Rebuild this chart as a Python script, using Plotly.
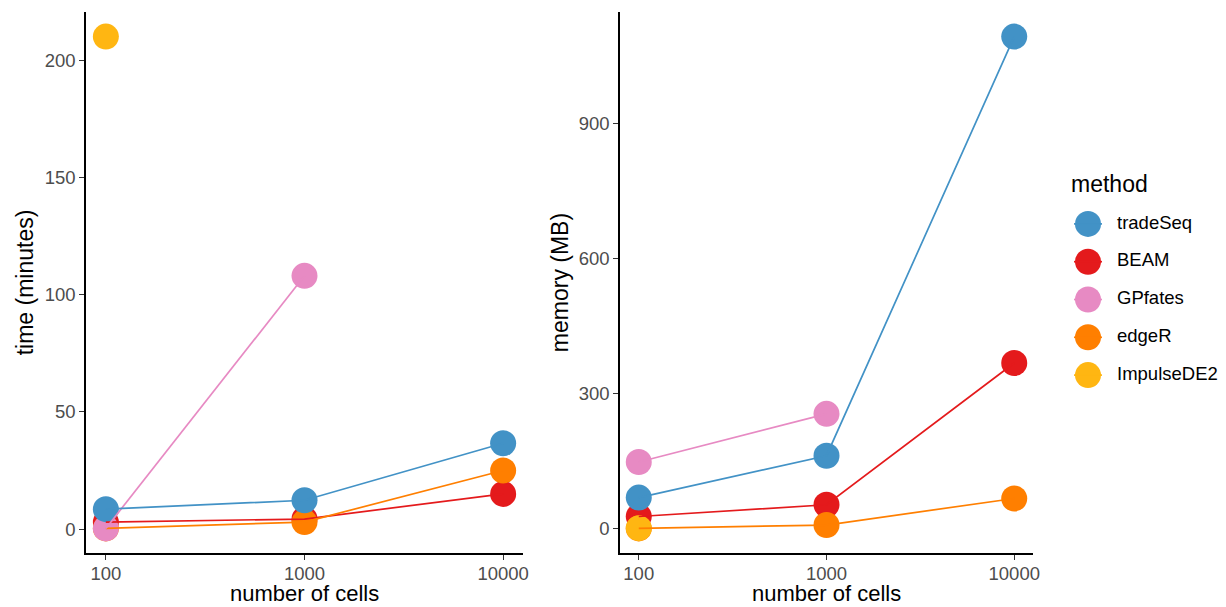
import plotly.graph_objects as go

# number of cells per benchmark run
cells = [100, 1000, 10000]

methods = ["tradeSeq", "BEAM", "GPfates", "edgeR", "ImpulseDE2"]
colors = {
    "tradeSeq": "#4292C6",
    "BEAM": "#E41A1C",
    "GPfates": "#E78AC3",
    "edgeR": "#FF7F00",
    "ImpulseDE2": "#FFB612",
}

# running time (minutes); None = run not available
time_tradeSeq = [8.5, 12.3, 36.6]
time_BEAM = [3.0, 4.3, 15.0]
time_GPfates = [0.3, 108.0, None]
time_edgeR = [0.3, 3.0, 25.0]
time_ImpulseDE2 = [210.0, None, None]

# peak memory (MB)
mem_tradeSeq = [69, 162, 1093]
mem_BEAM = [27, 53, 368]
mem_GPfates = [148, 255, None]
mem_edgeR = [0.5, 8, 67]
mem_ImpulseDE2 = [1, None, None]

time_data = {
    "tradeSeq": time_tradeSeq, "BEAM": time_BEAM, "GPfates": time_GPfates,
    "edgeR": time_edgeR, "ImpulseDE2": time_ImpulseDE2,
}
mem_data = {
    "tradeSeq": mem_tradeSeq, "BEAM": mem_BEAM, "GPfates": mem_GPfates,
    "edgeR": mem_edgeR, "ImpulseDE2": mem_ImpulseDE2,
}

# order in which points are painted (later ones on top)
point_order = ["BEAM", "edgeR", "GPfates", "ImpulseDE2", "tradeSeq"]

FONT = "Liberation Sans, Arial, sans-serif"
MSIZE = 26
LW = 1.7
TICK_SIZE = 18.5
TITLE_SIZE = 23

W, H = 1226, 607
ML, MT, MB = 86, 12, 54          # page margins around the plotting area
PW = W - ML                      # plotting-area width (no right margin)
PH = H - MT - MB


def xdom(a, b):
    return [(a - ML) / PW, (b - ML) / PW]


def ydom(top, bottom):
    return [(H - MB - bottom) / PH, (H - MB - top) / PH]


def px_x(x):
    return (x - ML) / PW


def px_y(y):
    return (H - MB - y) / PH


fig = go.Figure()


def pairs(vals):
    xs = [c for c, v in zip(cells, vals) if v is not None]
    ys = [v for v in vals if v is not None]
    return xs, ys


for xa, ya, data in (("x", "y", time_data), ("x2", "y2", mem_data)):
    # points first, then connecting lines drawn over them
    for m in point_order:
        xs, ys = pairs(data[m])
        fig.add_trace(go.Scatter(
            x=xs, y=ys, mode="markers", xaxis=xa, yaxis=ya,
            marker=dict(size=MSIZE, color=colors[m], line=dict(width=0)),
            showlegend=False, hoverinfo="skip"))
    for m in point_order:
        xs, ys = pairs(data[m])
        if len(xs) > 1:
            fig.add_trace(go.Scatter(
                x=xs, y=ys, mode="lines", xaxis=xa, yaxis=ya,
                line=dict(color=colors[m], width=LW),
                showlegend=False, hoverinfo="skip"))

# legend keys: a point with a short line segment through it, one row per method
for i, m in enumerate(methods):
    fig.add_trace(go.Scatter(
        x=[28], y=[i], mode="markers", xaxis="x3", yaxis="y3",
        marker=dict(size=MSIZE, color=colors[m], opacity=1, line=dict(width=0)),
        showlegend=False, hoverinfo="skip"))
    fig.add_trace(go.Scatter(
        x=[14, 42], y=[i, i], mode="lines", xaxis="x3", yaxis="y3",
        line=dict(color=colors[m], width=LW),
        showlegend=False, hoverinfo="skip"))
fig.add_trace(go.Scatter(
    x=[57] * len(methods), y=list(range(len(methods))), text=methods,
    mode="text", textposition="middle right", xaxis="x3", yaxis="y3",
    textfont=dict(family=FONT, size=TICK_SIZE, color="black"),
    cliponaxis=False, showlegend=False, hoverinfo="skip"))


def yrange(data):
    vals = [v for arr in data.values() for v in arr if v is not None]
    lo, hi = min(vals), max(vals)
    pad = 0.05 * (hi - lo)
    return [lo - pad, hi + pad]


axis_common = dict(
    showline=True, linecolor="black", linewidth=1.5, mirror=False,
    showgrid=False, zeroline=False, automargin=False,
    ticks="outside", ticklen=5, tickwidth=1.1, tickcolor="#333333",
    tickfont=dict(family=FONT, size=TICK_SIZE, color="#4D4D4D"),
)

title_font = dict(family=FONT, size=TITLE_SIZE, color="black")
xtitle_font = dict(family=FONT, size=22, color="black")

xaxis_common = dict(
    axis_common, type="log", range=[1.9, 4.1],
    tickvals=cells, ticktext=[str(c) for c in cells],
    ticklabelstandoff=-2,
)

legend_left = 1060

# x-axis titles placed under each panel
x_titles = [
    dict(text="number of cells", xref="paper", yref="paper",
         x=px_x((86 + 523) / 2), y=px_y(607), xanchor="center", yanchor="bottom",
         showarrow=False, font=xtitle_font, borderpad=0),
    dict(text="number of cells", xref="paper", yref="paper",
         x=px_x((620 + 1033) / 2), y=px_y(607), xanchor="center", yanchor="bottom",
         showarrow=False, font=xtitle_font, borderpad=0),
]

fig.update_layout(
    width=W, height=H,
    margin=dict(l=ML, r=0, t=MT, b=MB, autoexpand=False),
    paper_bgcolor="white", plot_bgcolor="white",
    font=dict(family=FONT),
    showlegend=False,
    xaxis=dict(xaxis_common, domain=xdom(86, 523), anchor="y"),
    xaxis2=dict(xaxis_common, domain=xdom(620, 1033), anchor="y2"),
    yaxis=dict(axis_common, range=yrange(time_data), tickvals=[0, 50, 100, 150, 200],
               domain=ydom(12, 553), anchor="x",
               title=dict(text="time (minutes)", font=title_font, standoff=5)),
    yaxis2=dict(axis_common, range=yrange(mem_data), tickvals=[0, 300, 600, 900],
                domain=ydom(12, 553), anchor="x2",
                title=dict(text="memory (MB)", font=title_font, standoff=4)),
    # pixel-scaled area holding the method key
    xaxis3=dict(domain=xdom(legend_left, W), range=[0, W - legend_left], visible=False,
                anchor="y3", fixedrange=True),
    yaxis3=dict(domain=ydom(205, 394), range=[len(methods) - 0.5, -0.5],
                visible=False, anchor="x3", fixedrange=True),
    annotations=x_titles + [dict(
        text="method", xref="paper", yref="paper",
        x=px_x(1069), y=px_y(184), xanchor="left", yanchor="middle",
        showarrow=False, font=title_font)],
)

fig.write_html("out.html")
